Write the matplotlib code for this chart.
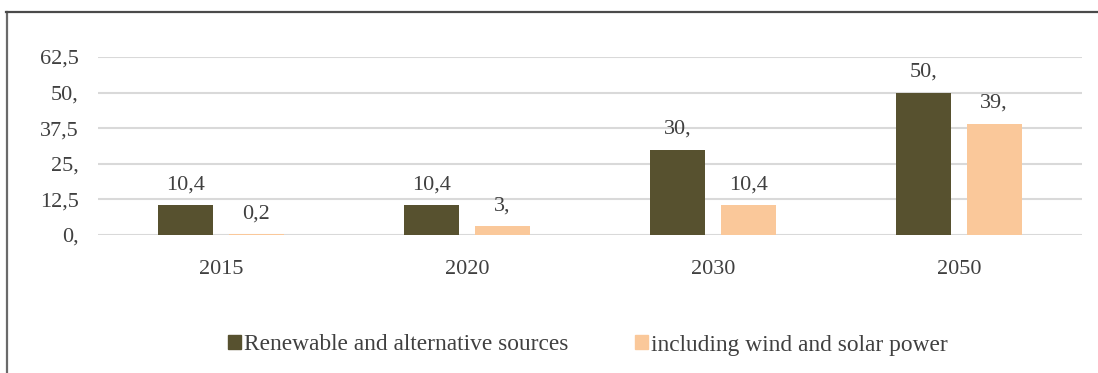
import matplotlib
matplotlib.use("Agg")
import matplotlib.pyplot as plt
from matplotlib.lines import Line2D
from matplotlib.patches import Patch
import numpy as np

years = ["2015", "2020", "2030", "2050"]
renewable = [10.4, 10.4, 30, 50]
wind_solar = [0.2, 3, 10.4, 39]
renewable_labels = ["10,4", "10,4", "30,", "50,"]
wind_solar_labels = ["0,2", "3,", "10,4", "39,"]
y_ticks = [0, 12.5, 25, 37.5, 50, 62.5]
y_tick_labels = ["0,", "12,5", "25,", "37,5", "50,", "62,5"]

dark = "#57512f"
light = "#fac89a"
text_c = "#404040"
serif = ["Liberation Serif", "DejaVu Serif"]

W, H = 1098, 373
fig = plt.figure(figsize=(W / 100, H / 100), dpi=100)
ax = fig.add_axes([98 / W, 1 - 235 / H, (1082 - 98) / W, (235 - 57) / H])

x = np.arange(len(years))
bw = 0.224
off = (bw + 0.061) / 2
b1 = ax.bar(x - off, renewable, bw, color=dark, zorder=3)
b2 = ax.bar(x + off, wind_solar, bw, color=light, zorder=3)

for bars, labels in ((b1, renewable_labels), (b2, wind_solar_labels)):
    for rect, lab in zip(bars, labels):
        ax.annotate(lab, (rect.get_x() + rect.get_width() / 2, rect.get_height()),
                    xytext=(0, 8), textcoords="offset points", ha="center", va="bottom",
                    fontsize=16, family=serif, color=text_c)

ax.set_xlim(-0.5, len(years) - 0.5)
ax.set_ylim(0, 62.5)
ax.set_yticks(y_ticks)
ax.set_yticklabels(y_tick_labels, family=serif, fontsize=16, color=text_c)
ax.set_xticks(x)
ax.set_xticklabels(years, family=serif, fontsize=16, color=text_c)
ax.tick_params(length=0, axis="y", pad=14)
ax.tick_params(length=0, axis="x", pad=18)
ax.grid(axis="y", color="#d9d9d9", linewidth=1.5, zorder=0)
for s in ax.spines.values():
    s.set_visible(False)

handles = [Patch(color=dark), Patch(color=light)]
fig.legend(handles, ["Renewable and alternative sources", "including wind and solar power"],
           loc="center", bbox_to_anchor=(588 / W, 1 - 345 / H), ncol=2, frameon=False,
           prop={"family": serif, "size": 16.8}, handlelength=0.55, handleheight=0.55,
           handletextpad=0.12, columnspacing=2.87, labelcolor=text_c)

# outer frame
fig.add_artist(Line2D([6.5 / W, 6.5 / W], [0, 1 - 11.5 / H], color="#6a6a6a", linewidth=1.6, transform=fig.transFigure))
fig.add_artist(Line2D([6 / W, 1], [1 - 11.5 / H, 1 - 11.5 / H], color="#4a4a4a", linewidth=1.6, transform=fig.transFigure))

fig.savefig("out.png", dpi=100)
